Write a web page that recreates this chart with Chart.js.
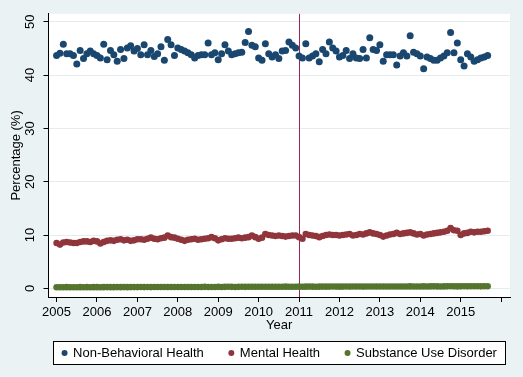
<!DOCTYPE html>
<html><head><meta charset="utf-8">
<script src="https://cdn.jsdelivr.net/npm/chart.js@4/dist/chart.umd.min.js"></script>
<style>html,body{margin:0;padding:0;background:#eaf2f3;overflow:hidden}#c{display:block}</style>
</head><body>
<canvas id="c" width="523" height="377"></canvas>
<script>
// ---- data (monthly, Jan 2005 .. Sep 2015) ----
const startYear = 2005;
const startMonth = 1;
const seriesNames = ['Non-Behavioral Health', 'Mental Health', 'Substance Use Disorder'];
const nonBehavioral = [
 43.7,44.1,45.8,44.0,44.0,43.7,42.1,44.6,43.1,44.0,44.5,44.0,
 43.7,43.2,45.8,42.9,44.6,43.8,42.6,44.8,43.1,45.1,45.5,44.5,
 45.0,43.8,45.7,43.8,44.6,43.5,44.0,45.3,42.8,46.7,45.7,43.7,
 45.1,44.8,44.5,44.2,43.8,43.2,43.7,43.8,43.8,46.0,43.8,44.2,
 42.9,44.0,45.7,44.5,43.8,44.0,44.2,44.3,46.1,48.2,45.6,45.3,
 43.2,42.8,45.9,44.0,43.4,43.8,43.1,44.5,44.6,46.2,45.6,45.1,
 43.6,43.2,45.9,43.2,43.6,44.0,42.5,44.8,44.0,46.2,45.1,44.5,
 43.4,43.7,44.6,43.1,44.0,43.2,43.1,44.8,43.2,47.0,44.8,44.6,
 45.7,42.6,43.8,43.8,43.8,41.9,43.6,44.2,43.6,47.4,44.3,44.0,
 43.6,41.2,43.4,43.1,42.8,42.8,43.2,43.6,44.2,48.0,44.2,46.0,
 42.9,41.7,44.0,43.4,42.6,42.9,43.2,43.4,43.7
];
const mentalHealth = [
 8.5,8.2,8.6,8.7,8.6,8.5,8.5,8.7,8.8,8.8,8.7,8.9,
 8.8,8.4,8.7,8.9,9.0,8.9,9.1,9.2,9.0,9.1,8.9,9.0,
 9.2,9.2,9.1,9.3,9.5,9.3,9.2,9.4,9.5,9.9,9.6,9.5,
 9.3,9.1,8.9,9.1,9.2,9.3,9.1,9.2,9.3,9.4,9.6,9.4,
 9.0,9.2,9.4,9.3,9.3,9.4,9.5,9.4,9.5,9.6,9.9,9.6,
 9.3,9.5,10.2,10.0,9.9,9.8,9.9,9.8,9.7,9.8,9.9,9.9,
 9.6,9.3,10.2,10.0,9.9,9.8,9.6,9.8,10.0,10.1,10.0,10.0,
 9.9,10.0,10.1,10.2,9.9,10.0,10.2,10.1,10.3,10.5,10.3,10.2,
 10.0,9.7,9.9,10.1,10.2,10.4,10.2,10.3,10.4,10.5,10.3,10.1,
 10.2,9.9,10.1,10.2,10.3,10.4,10.5,10.6,10.8,11.3,10.9,10.8,
 10.0,10.3,10.4,10.6,10.5,10.6,10.6,10.7,10.8
];
const substanceUse = [
 0.20,0.21,0.20,0.22,0.21,0.20,0.21,0.22,0.21,0.22,0.21,0.22,
 0.22,0.21,0.22,0.23,0.22,0.22,0.23,0.22,0.23,0.22,0.23,0.23,
 0.23,0.24,0.23,0.24,0.23,0.25,0.24,0.24,0.25,0.24,0.25,0.24,
 0.25,0.24,0.25,0.26,0.25,0.26,0.25,0.26,0.27,0.26,0.25,0.26,
 0.27,0.26,0.27,0.28,0.27,0.26,0.27,0.28,0.27,0.28,0.29,0.28,
 0.28,0.29,0.30,0.29,0.28,0.30,0.29,0.30,0.31,0.30,0.29,0.30,
 0.31,0.30,0.31,0.32,0.31,0.30,0.31,0.32,0.31,0.32,0.33,0.32,
 0.31,0.32,0.33,0.32,0.33,0.34,0.33,0.32,0.33,0.34,0.33,0.34,
 0.34,0.33,0.34,0.35,0.34,0.33,0.35,0.34,0.35,0.36,0.35,0.34,
 0.35,0.36,0.35,0.36,0.37,0.36,0.35,0.36,0.37,0.38,0.37,0.36,
 0.37,0.38,0.37,0.38,0.39,0.38,0.37,0.38,0.39
];
const yearTicks = [2005,2006,2007,2008,2009,2010,2011,2012,2013,2014,2015,2016];
const yearLabels = ['2005','2006','2007','2008','2009','2010','2011','2012','2013','2014','2015',''];
const yTicks = [0,10,20,30,40,50];
const interventionYear = 2011;

// decimal-year positions of the monthly categories
const months = nonBehavioral.map((_, i) => startYear + (startMonth - 1 + i) / 12);
const toPts = arr => arr.map((v, i) => ({x: months[i], y: v}));

const colors = ['#1a476f', '#90353b', '#55752f'];
const FONT = 'Liberation Sans, Arial, sans-serif';

const plotBg = {
  id: 'plotBg',
  beforeDraw(chart) {
    const {ctx, chartArea: a} = chart;
    ctx.save();
    ctx.fillStyle = '#eaf2f3';
    ctx.fillRect(0, 0, chart.width, chart.height);
    ctx.fillStyle = '#ffffff';
    ctx.fillRect(a.left, a.top, a.right - a.left, a.bottom - a.top);
    ctx.restore();
  }
};
const vline = {
  id: 'vline',
  beforeDatasetsDraw(chart) {
    const {ctx, chartArea: a, scales: {x}} = chart;
    const px = Math.round(x.getPixelForValue(interventionYear)) + 0.5;
    ctx.save();
    ctx.strokeStyle = '#99245a';
    ctx.lineWidth = 1;
    ctx.beginPath();
    ctx.moveTo(px, a.top);
    ctx.lineTo(px, a.bottom);
    ctx.stroke();
    ctx.restore();
  }
};
const legendBox = {
  id: 'legendBox',
  afterDraw(chart) {
    const {ctx} = chart;
    ctx.save();
    ctx.font = '13px ' + FONT;
    const boxL = 53.5, boxR = 505.5, boxT = 341.5, boxB = 364.5;
    ctx.strokeStyle = '#000';
    ctx.lineWidth = 1;
    ctx.fillStyle = '#ffffff';
    ctx.fillRect(boxL, boxT, boxR - boxL, boxB - boxT);
    ctx.strokeRect(boxL, boxT, boxR - boxL, boxB - boxT);
    const gap = 25, mk = 11;
    const widths = seriesNames.map(s => ctx.measureText(s).width);
    const total = widths.reduce((a, b) => a + b, 0) + mk * 3 + gap * 2;
    let x = (boxL + boxR) / 2 - total / 2;
    const cy = (boxT + boxB) / 2;
    ctx.textBaseline = 'middle';
    seriesNames.forEach((s, i) => {
      ctx.fillStyle = colors[i];
      ctx.beginPath();
      ctx.arc(x + 2.5, cy, 3, 0, Math.PI * 2);
      ctx.fill();
      ctx.fillStyle = '#000';
      ctx.fillText(s, x + mk, cy + 0.5);
      x += mk + widths[i] + gap;
    });
    ctx.restore();
  }
};

const ds = (label, arr, c, r) => ({
  label, data: toPts(arr), backgroundColor: c, borderColor: c,
  pointRadius: r, pointBorderWidth: 0, pointHoverRadius: r, showLine: false
});

new Chart(document.getElementById('c'), {
  type: 'scatter',
  data: {datasets: [
    ds(seriesNames[2], substanceUse, colors[2], 3.3),
    ds(seriesNames[1], mentalHealth, colors[1], 3.3),
    ds(seriesNames[0], nonBehavioral, colors[0], 3.5)
  ]},
  options: {
    responsive: false, animation: false, devicePixelRatio: 1,
    layout: {padding: {top: 13, right: 13, bottom: 40, left: 0}},
    plugins: {legend: {display: false}, tooltip: {enabled: false}},
    scales: {
      x: {
        type: 'linear', min: 2004.8, max: 2016.22,
        afterBuildTicks: s => { s.ticks = yearTicks.map(v => ({value: v})); },
        afterFit: s => { s.height = 40; },
        ticks: {font: {family: FONT, size: 13}, color: '#000', padding: 3,
                maxRotation: 0, autoSkip: false,
                callback: (v, i) => yearLabels[i]},
        grid: {drawOnChartArea: false, drawTicks: true, tickLength: 5, tickColor: '#000'},
        border: {display: true, color: '#000', width: 1},
        title: {display: true, text: 'Year', font: {family: FONT, size: 13}, color: '#000',
                padding: {top: 0, bottom: 4}}
      },
      y: {
        type: 'linear', min: -1.63, max: 51.5,
        afterBuildTicks: s => { s.ticks = yTicks.map(v => ({value: v})); },
        afterFit: s => { s.width = 48.5; },
        ticks: {font: {family: FONT, size: 13}, color: '#000', padding: 6,
                minRotation: 90, maxRotation: 90, crossAlign: 'center', autoSkip: false},
        grid: {drawOnChartArea: true, color: '#e4ecee', drawTicks: true, tickLength: 5, tickColor: '#000'},
        border: {display: true, color: '#000', width: 1},
        title: {display: true, text: 'Percentage (%)', font: {family: FONT, size: 13}, color: '#000',
                padding: {top: 9, bottom: 0}}
      }
    }
  },
  plugins: [plotBg, vline, legendBox]
});
</script>
</body></html>
